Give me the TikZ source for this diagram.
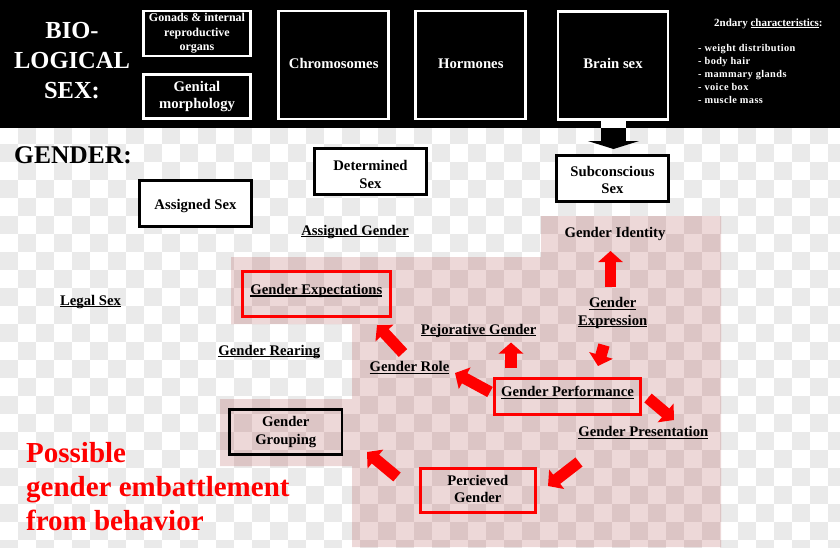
\documentclass[tikz,border=0pt]{standalone}
\usepackage{fontspec}
\setmainfont{Liberation Serif}
\usetikzlibrary{arrows.meta}
\definecolor{chk}{RGB}{234,234,234}
\definecolor{pinkL}{RGB}{237,216,216}
\definecolor{pinkD}{RGB}{220,197,197}
\newcommand\myul[1]{\leavevmode\setbox0=\hbox{#1}\rlap{\rule[-0.14em]{\wd0}{0.075em}}\box0}
\begin{document}
\begin{tikzpicture}[x=1pt,y=-1pt,
  lbl/.style={font=\fontsize{14.7}{17.5}\selectfont\bfseries, inner sep=0, align=center},
  wbox/.style={draw=white, line width=2.8pt, text=white, inner sep=0, align=center, font=\fontsize{14.7}{17}\selectfont\bfseries},
  kbox/.style={draw=black, line width=3pt, fill=white, inner sep=0, align=center},
  rbox/.style={draw=red, line width=3pt, inner sep=0, align=center},
  rarr/.style={draw=red, line width=11.5pt, -{Triangle[length=11pt,width=24pt]}},
]
\useasboundingbox (0,0) rectangle (840,547);
% checker background
\begin{scope}
\clip (0,128) rectangle (840,547);
\fill[white] (0,128) rectangle (840,547);
\foreach \i in {0,...,46}{\foreach \j in {7,...,30}{
  \pgfmathtruncatemacro\k{mod(\i+\j,2)}
  \ifnum\k=0 \fill[chk] (\i*18,\j*18) rectangle ++(18,18);\fi
}}
\end{scope}
% pink region
\def\pinkpath{(541,216) -- (721,216) -- (721,547) -- (352,547) -- (352,466) -- (220,466) -- (220,399) -- (352,399) -- (352,324) -- (231,324) -- (231,257) -- (541,257) -- cycle}
\fill[pinkL] \pinkpath;
\begin{scope}
\clip \pinkpath;
\foreach \i in {12,...,40}{\foreach \j in {11,...,30}{
  \pgfmathtruncatemacro\k{mod(\i+\j,2)}
  \ifnum\k=0 \fill[pinkD] (\i*18,\j*18) rectangle ++(18,18);\fi
}}
\end{scope}
% black band
\fill[black] (0,0) rectangle (840,128);
\node[font=\fontsize{24.5}{30}\selectfont\bfseries, text=white, align=center, anchor=base, inner sep=0] (bio) at (72,98.3) {BIO-\\LOGICAL\\SEX:};
\node[wbox, font=\fontsize{12}{14.5}\selectfont\bfseries, minimum width=107, minimum height=45] (gon) at (197,33.4) {Gonads \& internal\\reproductive\\organs};
\node[wbox, minimum width=107, minimum height=44] (gen) at (197,96.3) {Genital\\morphology};
\node[wbox, minimum width=110, minimum height=108] (chr) at (333.7,65) {};
\node[lbl, text=white] at ([yshift=1.5pt]chr.center) {Chromosomes};
\node[wbox, minimum width=110, minimum height=108] (hor) at (470.8,65) {};
\node[lbl, text=white] at ([yshift=1.5pt]hor.center) {Hormones};
\node[wbox, minimum width=110, minimum height=108] (brain) at (613,65.3) {};
\node[lbl, text=white] at ([yshift=1.5pt]brain.center) {Brain sex};
\node[text=white, font=\fontsize{11}{13}\selectfont\bfseries, anchor=base west, inner sep=0] (sec) at (714,26.5) {2ndary \myul{characteristics}:};
\node[text=white, font=\fontsize{10.3}{12.9}\selectfont\bfseries\addfontfeatures{LetterSpace=4}, anchor=base west, inner sep=0, align=left] (list) at (698,103.5) {- weight distribution\\- body hair\\- mammary glands\\- voice box\\- muscle mass};
% black arrow
\fill[white] (601,121) rectangle (626,128);
\coordinate (ba) at (613.5,128);
\coordinate (bb) at (613.5,149);
\draw[black, line width=25pt, -{Triangle[length=8pt,width=51pt]}] (ba) -- (bb);
% gender part
\node[font=\fontsize{25.5}{30}\selectfont\bfseries, anchor=base west, inner sep=0] (gender) at (14,163.3) {GENDER:};
\node[kbox, minimum width=112, minimum height=46] (asex) at (195.5,203.5) {};
\node[lbl] at ([yshift=-3pt]asex.center) {Assigned Sex};
\node[kbox, minimum width=112, minimum height=46] (dsex) at (370.5,171.5) {};
\node[lbl] at ([yshift=-3pt]dsex.center) {Determined\\Sex};
\node[kbox, minimum width=112, minimum height=45.7] (subc) at (612.5,178.3) {};
\node[lbl] at ([yshift=-1.5pt]subc.center) {Subconscious\\Sex};
\node[lbl] (agender) at (355,231.8) {\myul{Assigned Gender}};
\node[lbl] (gid) at (615,233.5) {Gender Identity};
\node[lbl] (legal) at (90.5,301.8) {\myul{Legal Sex}};
\node[rbox, minimum width=148, minimum height=45] (gexp) at (316.3,294) {};
\node[lbl] at ([yshift=3pt]gexp.center) {\myul{Gender Expectations}};
\node[lbl] (pej) at (478.7,330.8) {\myul{Pejorative Gender}};
\node[lbl] (rear) at (269.3,351.8) {\myul{Gender Rearing}};
\node[lbl] (role) at (409.5,367.5) {\myul{Gender Role}};
\node[lbl] (gexpr) at (612.7,313) {\myul{Gender}\\\myul{Expression}};
\node[rbox, minimum width=145.4, minimum height=35.7] (perf) at (567.5,396.7) {};
\node[lbl] at ([yshift=4pt]perf.center) {\myul{Gender Performance}};
\node[lbl] (pres) at (643.3,432.8) {\myul{Gender Presentation}};
\node[kbox, fill=none, line width=2.6pt, minimum width=112.5, minimum height=45] (group) at (285.8,432.2) {};
\node[lbl] at (group.center) {Gender\\Grouping};
\node[rbox, minimum width=114.7, minimum height=44.6] (perc) at (477.8,490.5) {};
\node[lbl] at ([yshift=1.5pt]perc.center) {Percieved\\Gender};
\node[text=red, font=\fontsize{29}{33.7}\selectfont\bfseries, align=left, anchor=base west, inner sep=0] (poss) at (26,530) {Possible\\gender embattlement\\from behavior};
% red arrows
\coordinate (a1s) at (610.5,287); \coordinate (a1e) at (610.5,251);
\coordinate (a2s) at (403,353);   \coordinate (a2e) at (377,325);
\coordinate (a3s) at (511,368);   \coordinate (a3e) at (511,342.5);
\coordinate (a4s) at (490,392);   \coordinate (a4e) at (455,373);
\coordinate (a5s) at (604,345);   \coordinate (a5e) at (598,366);
\coordinate (a6s) at (648,398);   \coordinate (a6e) at (674,420);
\coordinate (a7s) at (579,462);   \coordinate (a7e) at (548,486);
\coordinate (a8s) at (397,477);   \coordinate (a8e) at (367,452);
\foreach \n in {1,...,8}{\draw[rarr] (a\n s) -- (a\n e);}
\end{tikzpicture}
\end{document}
